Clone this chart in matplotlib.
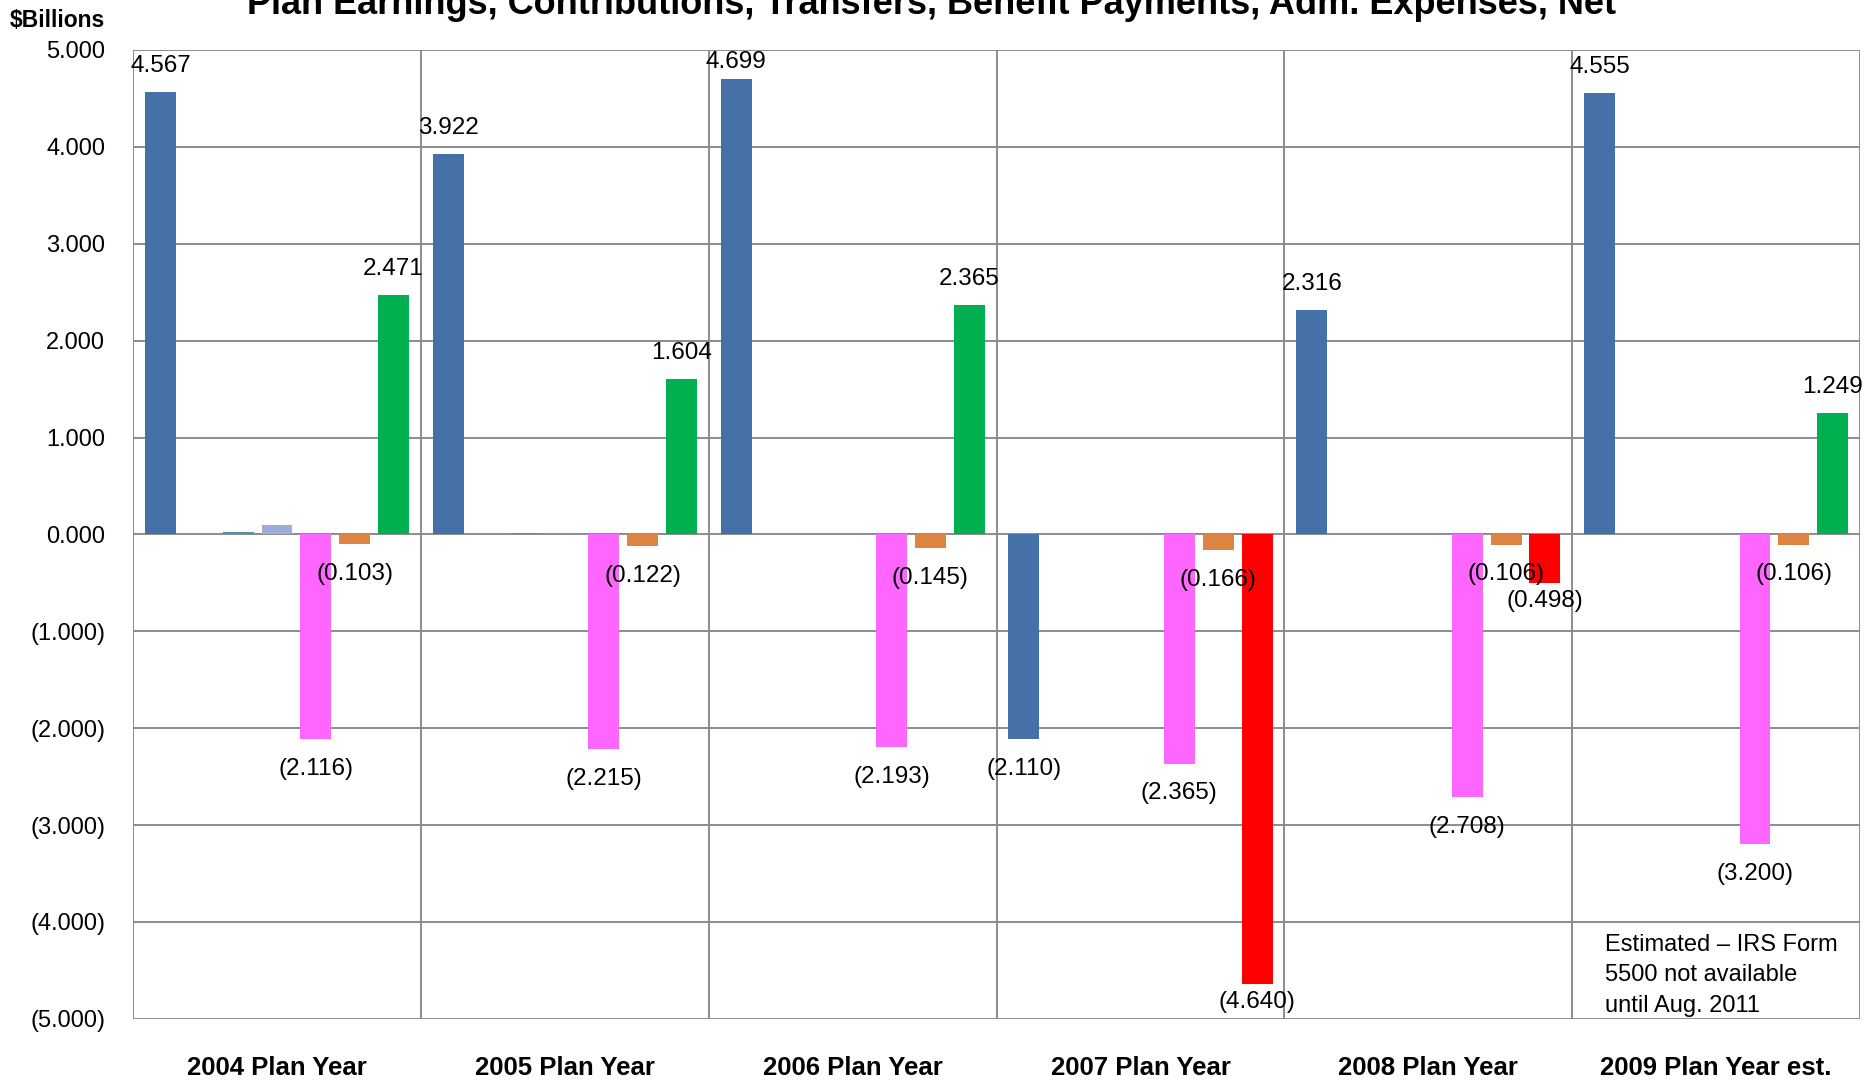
import numpy as np
import matplotlib
matplotlib.use("Agg")
import matplotlib.pyplot as plt

plt.rcParams['font.family'] = ['Liberation Sans', 'DejaVu Sans']

# Plan-year groups and the six flows ($ billions)
years = ["2004 Plan Year", "2005 Plan Year", "2006 Plan Year",
         "2007 Plan Year", "2008 Plan Year", "2009 Plan Year est."]
earnings = [4.567, 3.922, 4.699, -2.110, 2.316, 4.555]
contributions = [0.0, 0.0, 0.0, 0.0, 0.0, 0.0]
transfers_in = [0.022, 0.012, 0.0, 0.0, 0.0, 0.0]
transfers_other = [0.098, 0.0, 0.0, 0.0, 0.0, 0.0]
benefits = [-2.116, -2.215, -2.193, -2.365, -2.708, -3.200]
adm_expenses = [-0.103, -0.122, -0.145, -0.166, -0.106, -0.106]
net = [2.471, 1.604, 2.365, -4.640, -0.498, 1.249]

yticks = [5, 4, 3, 2, 1, 0, -1, -2, -3, -4, -5]

series = [
    (earnings, "#4671A8", True),
    (contributions, "#C0504D", False),
    (transfers_in, "#4A93AC", False),
    (transfers_other, "#9AAED6", False),
    (benefits, "#FF66FF", True),
    (adm_expenses, "#DE8443", True),
    (net, None, True),
]


def fmt(v):
    return f"({abs(v):.3f})" if v < 0 else f"{v:.3f}"


fig = plt.figure(figsize=(18.64, 10.81), dpi=100)
ax = fig.add_axes([0.0714, 0.0575, 0.9265, 0.8963])

x = np.arange(len(years))
bw = 0.1074
step = 0.135
first = 0.0413

grid_c = "#8C8C8C"
for k, (vals, color, labelled) in enumerate(series):
    xs = x + first + k * step + bw / 2
    if color is None:
        colors = ["#00B050" if v >= 0 else "#FF0000" for v in vals]
    else:
        colors = color
    ax.bar(xs, vals, width=bw, color=colors, zorder=3)
    if not labelled:
        continue
    for xi, v in zip(xs, vals):
        # label offsets in data units, kept inside the plot area
        if v >= 0:
            ly = min(v + 0.27, 4.88)
        elif color is None:
            ly = v - 0.19
        else:
            ly = v - 0.307
        ax.text(xi, ly, fmt(v), ha="center", va="center", fontsize=17.5, zorder=4)

ax.set_xlim(0, len(years))
ax.set_ylim(-5, 5)
ax.set_yticks(yticks)
ax.set_yticklabels([fmt(t) for t in yticks])
ax.set_xticks(x + 0.5)
ax.set_xticklabels(years, fontweight="bold", fontsize=18.5)
ax.tick_params(axis="y", length=0, labelsize=17, pad=20)
ax.tick_params(axis="x", length=0, pad=27)

for t in yticks:
    ax.axhline(t, color=grid_c, lw=1.4, zorder=1)
for b in range(len(years) + 1):
    ax.axvline(b, color=grid_c, lw=1.4, zorder=1)
for s in ax.spines.values():
    s.set_visible(False)

fig.text(0.5, 0.996, "Plan Earnings, Contributions, Transfers, Benefit Payments, Adm. Expenses, Net",
         ha="center", va="center", fontsize=26, fontweight="bold")
fig.text(0.005, 0.981, "$Billions", ha="left", va="center", fontsize=16.5, fontweight="bold")

ax.text(5.115, -4.55, "Estimated \u2013 IRS Form\n5500 not available\nuntil Aug. 2011",
        ha="left", va="center", fontsize=17, linespacing=1.5, zorder=4)

fig.savefig("out.png", dpi=100)
